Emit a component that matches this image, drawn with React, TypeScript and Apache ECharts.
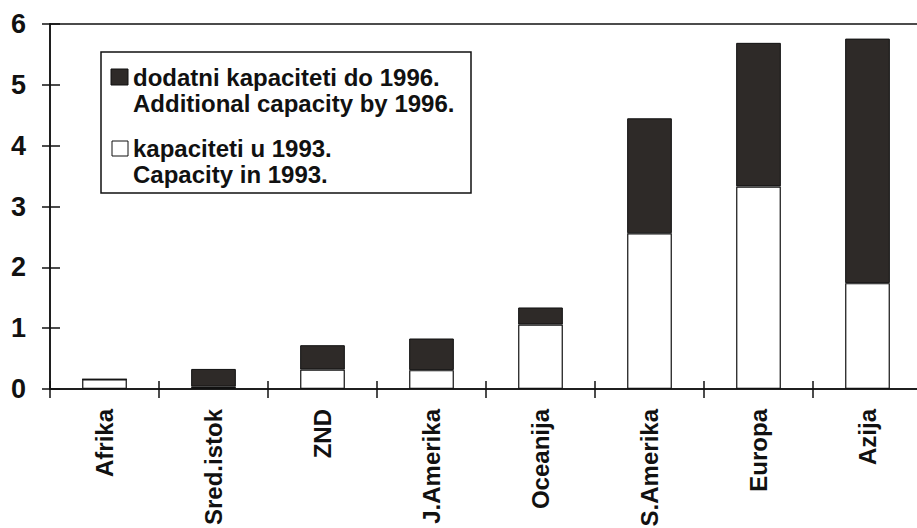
import React, { useEffect, useRef } from "react";
import * as echarts from "echarts";

const categories = ["Afrika", "Sred.istok", "ZND", "J.Amerika", "Oceanija", "S.Amerika", "Europa", "Azija"];
const capacity1993 = [0.16, 0.04, 0.32, 0.31, 1.06, 2.56, 3.33, 1.74];
const additional1996 = [0, 0.29, 0.4, 0.52, 0.28, 1.89, 2.36, 4.02];
const legendDark = ["dodatni kapaciteti do 1996.", "Additional capacity by 1996."];
const legendWhite = ["kapaciteti u 1993.", "Capacity in 1993."];

const FONT = "'Liberation Sans', Arial, Helvetica, sans-serif";
const DARK = "#2e2a28";
const INK = "#111";

export default function App() {
  const ref = useRef<HTMLDivElement>(null);
  useEffect(() => {
    if (!ref.current) return;
    const chart = echarts.init(ref.current, null, { renderer: "svg" });
    const txt = (x: number, y: number, lines: string[]) => ({
      type: "text",
      x,
      y,
      z: 101,
      style: {
        text: lines.join("\n"),
        font: `bold 24px ${FONT}`,
        lineHeight: 26,
        fill: INK,
        verticalAlign: "top",
        align: "left",
      },
    });
    const lineStyle = { color: INK, width: 1.5 };
    chart.setOption({
      animation: false,
      backgroundColor: "#fff",
      grid: { left: 50, top: 24, right: -5, bottom: 139, containLabel: false, outerBoundsMode: "none" },
      xAxis: [
        {
          type: "category",
          data: categories,
          position: "bottom",
          axisLine: { show: true, lineStyle },
          axisTick: { show: true, length: 9, lineStyle },
          axisLabel: { rotate: 90, margin: 20, fontSize: 24, fontWeight: "bold", fontFamily: FONT, color: INK },
        },
        {
          type: "category",
          data: categories,
          position: "bottom",
          axisLine: { show: true, lineStyle },
          axisTick: { show: true, inside: true, length: 8, lineStyle },
          axisLabel: { show: false },
        },
        {
          type: "category",
          data: categories,
          position: "top",
          axisLine: { show: true, lineStyle },
          axisTick: { show: false },
          axisLabel: { show: false },
        },
      ],
      yAxis: [
        {
          type: "value",
          min: 0,
          max: 6,
          interval: 1,
          position: "left",
          axisLine: { show: true, lineStyle },
          axisTick: { show: true, length: 8, lineStyle },
          axisLabel: { margin: 24, fontSize: 27, fontWeight: "bold", fontFamily: FONT, color: INK },
          splitLine: { show: false },
        },
        {
          type: "value",
          min: 0,
          max: 6,
          interval: 1,
          position: "left",
          axisLine: { show: true, lineStyle },
          axisTick: { show: true, inside: true, length: 10, lineStyle },
          axisLabel: { show: false },
          splitLine: { show: false },
        },
      ],
      series: [
        {
          name: legendWhite[0],
          type: "bar",
          stack: "total",
          data: capacity1993,
          barWidth: "41%",
          itemStyle: { color: "#fff", borderColor: INK, borderWidth: 1.2 },
        },
        {
          name: legendDark[0],
          type: "bar",
          stack: "total",
          data: additional1996,
          barWidth: "41%",
          itemStyle: { color: DARK, borderColor: INK, borderWidth: 1 },
        },
      ],
      graphic: [
        {
          type: "rect",
          z: 100,
          shape: { x: 101, y: 52, width: 370, height: 141 },
          style: { fill: "#fff", stroke: INK, lineWidth: 1.5 },
        },
        {
          type: "rect",
          z: 101,
          shape: { x: 111, y: 69, width: 17, height: 16 },
          style: { fill: DARK, stroke: INK, lineWidth: 1 },
        },
        txt(133, 64, legendDark),
        {
          type: "rect",
          z: 101,
          shape: { x: 112, y: 141, width: 16, height: 15 },
          style: { fill: "#fff", stroke: INK, lineWidth: 1 },
        },
        txt(133, 135, legendWhite),
      ],
    });
    return () => chart.dispose();
  }, []);
  return (
    <div
      ref={ref}
      style={{ position: "absolute", left: 0, top: 0, width: 917, height: 528, background: "#fff" }}
    />
  );
}
